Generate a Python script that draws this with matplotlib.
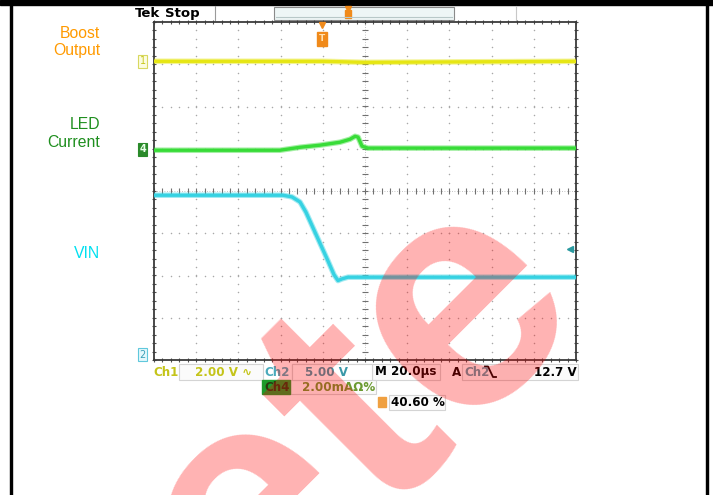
import numpy as np
import matplotlib.pyplot as plt
from matplotlib.patches import Rectangle

# scope settings (status bar)
ch1_volts_div = 2.0
ch2_volts_div = 5.0
ch4_ma_div = 2.0
time_div_us = 20.0
trig_level_v = 12.7
trig_pos_us = -20.4

# channel ground markers, divisions from screen centre
ch1_pos = 3.07
ch4_pos = 0.99
ch2_pos = -3.92

# Ch1 boost output, V (ac coupled)
boost_t = [-100, -20, 0, 100]
boost_v = [0.0, 0.0, -0.05, 0.0]

# Ch4 LED current, mA deviation
led_t = [-100, -40.3, -30.8, -21.3, -11.8, -7.1, -4.7, -3.3, -1.4, 1.4, 100]
led_ma = [-0.05, -0.05, 0.09, 0.19, 0.33, 0.47, 0.61, 0.57, 0.14, 0.05, 0.05]

# Ch2 VIN, V
vin_t = [-100, -38.9, -34.6, -30.8, -28.0, -25.1, -21.3, -17.5, -14.7, -12.8, -10.9, -8.1, 100]
vin_v = [19.1, 19.1, 18.9, 18.3, 17.1, 15.5, 13.4, 11.3, 9.7, 9.0, 9.2, 9.4, 9.4]

labels = [("Boost", "#ff9a00", 38), ("Output", "#ff9a00", 55),
          ("LED", "#1f8f1f", 129), ("Current", "#1f8f1f", 147),
          ("VIN", "#00e0f0", 258)]

W, H = 713, 495
fig = plt.figure(figsize=(W / 100, H / 100), dpi=100)

# page decoration in pixel coordinates
bg = fig.add_axes([0, 0, 1, 1])
bg.set_xlim(0, W)
bg.set_ylim(H, 0)
bg.axis('off')
bg.add_patch(Rectangle((0, 0), W, 5, color='black'))
bg.add_patch(Rectangle((10, 0), 2, H, color='black'))
bg.add_patch(Rectangle((706, 0), 2, H, color='black'))

for txt, col, yb in labels:
    bg.text(100, yb, txt, color=col, ha='right', va='baseline',
            fontsize=11.3, family='Liberation Sans')

# header
bg.text(135, 13.5, 'Tek', fontsize=9.5, weight='bold', va='center', family='DejaVu Sans')
bg.text(165, 13.5, 'Stop', fontsize=9.5, weight='semibold', va='center', family='DejaVu Sans')
bg.plot([215, 215], [6, 20], color='#9a9a9a', lw=0.8)
bg.plot([516, 516], [6, 20], color='#c8c8c8', lw=0.8)
bg.add_patch(Rectangle((274, 7), 180, 13, facecolor='#eef6f6', edgecolor='#8a8a8a', lw=0.8))
bg.plot([276, 452], [17, 17], color='#b8c8c8', lw=0.8)
bg.plot(348, 9, marker='v', color='#f08a1a', ms=4)
bg.add_patch(Rectangle((345, 10), 6, 8, color='#f08a1a'))

# status bar boxes
boxes = [(179, 364, 84, 16), (292, 364, 80, 16), (372, 364, 68, 16),
         (462, 364, 116, 16), (290, 380, 86, 14), (389, 395, 56, 15)]
for x0, y0, bw, bh in boxes:
    bg.add_patch(Rectangle((x0, y0), bw, bh, facecolor='#fbfbfb', edgecolor='#d4d4d4', lw=0.8))
bg.add_patch(Rectangle((292, 364), 80, 16, facecolor='white', edgecolor='#d4d4d4', lw=0.8))

sfont = dict(fontsize=8.6, weight='bold', va='center', family='DejaVu Sans')
bg.text(153, 372, 'Ch1', color='#c4c41a', **sfont)
bg.text(195, 372, '2.00 V \u223f', color='#c4c41a', **sfont)
bg.text(264, 372, 'Ch2', color='#4aaabb', **sfont)
bg.text(305, 372, '5.00 V', color='#3a98a8', **sfont)
bg.text(375, 372, 'M 20.0\u00b5s', color='black', **sfont)
bg.text(452, 372, 'A', color='black', **sfont)
bg.text(464, 372, 'Ch2', color='#5a9aa8', **sfont)
# falling edge symbol
bg.plot([485, 488, 493, 496], [366.5, 366.5, 377, 377], color='black', lw=1.3)
bg.text(577, 372, '12.7 V', color='black', ha='right', **sfont)
bg.add_patch(Rectangle((262, 380), 28, 14, color='#1e9a2a'))
bg.text(264, 387.5, 'Ch4', color='#2a3a10', **sfont)
bg.text(302, 387.5, '2.00mA\u2126%', color='#6a9a30', **sfont)
bg.add_patch(Rectangle((378, 397), 8, 10, color='#f0a040'))
bg.text(391, 402.5, '40.60 %', color='black', **sfont)

# scope graticule: x in us, y in divisions
ax = fig.add_axes([154 / W, 1 - 360 / H, 422 / W, 338 / H])
ax.set_xlim(-5 * time_div_us, 5 * time_div_us)
ax.set_ylim(-4, 4)
ax.set_xticks([])
ax.set_yticks([])
for s in ax.spines.values():
    s.set_color('#3a3a3a')
    s.set_linewidth(1.3)

xs = np.arange(-100, 100.1, 4)
ys = np.arange(-4, 4.01, 0.2)
for gx in np.arange(-80, 81, 20):
    if gx != 0:
        ax.scatter(np.full(ys.size, gx), ys, s=1.2, color='#a8a8a8', lw=0, zorder=1)
for gy in range(-3, 4):
    if gy != 0:
        ax.scatter(xs, np.full(xs.size, gy), s=1.2, color='#a8a8a8', lw=0, zorder=1)
# centre lines with minor ticks
ax.axhline(0, color='#b0b0b0', lw=0.6, ls=(0, (1, 2)), zorder=1)
ax.axvline(0, color='#b0b0b0', lw=0.6, ls=(0, (1, 2)), zorder=1)
ax.scatter(xs, np.zeros(xs.size), marker='|', s=18, color='#707070', lw=0.8, zorder=1)
ax.scatter(np.zeros(ys.size), ys, marker='_', s=18, color='#707070', lw=0.8, zorder=1)
# border ticks
ax.scatter(xs, np.full(xs.size, 4), marker='|', s=10, color='#505050', lw=0.8, zorder=1, clip_on=False)
ax.scatter(xs, np.full(xs.size, -4), marker='|', s=10, color='#505050', lw=0.8, zorder=1, clip_on=False)
ax.scatter(np.full(ys.size, -100), ys, marker='_', s=10, color='#505050', lw=0.8, zorder=1, clip_on=False)
ax.scatter(np.full(ys.size, 100), ys, marker='_', s=10, color='#505050', lw=0.8, zorder=1, clip_on=False)

# traces
boost_y = np.array(boost_v) / ch1_volts_div + ch1_pos
led_y = np.array(led_ma) / ch4_ma_div + ch4_pos
vin_y = np.array(vin_v) / ch2_volts_div + ch2_pos
for t, y, col in [(boost_t, boost_y, '#e6e614'), (led_t, led_y, '#38dc38'), (vin_t, vin_y, '#36d2e2')]:
    ax.plot(t, y, color=col, lw=4.0, alpha=0.45, solid_capstyle='butt', zorder=3)
    ax.plot(t, y, color=col, lw=2.4, solid_capstyle='butt', zorder=4)

# channel markers
yt = ax.get_yaxis_transform()
ax.text(-0.027, ch1_pos, '1', transform=yt, ha='center', va='center', fontsize=7,
        color='#c8c820', clip_on=False,
        bbox=dict(boxstyle='square,pad=0.15', fc='#fcfce0', ec='#d8d860', lw=0.8))
ax.text(-0.027, ch4_pos, '4', transform=yt, ha='center', va='center', fontsize=7,
        color='#e8ffe8', weight='bold', clip_on=False,
        bbox=dict(boxstyle='square,pad=0.15', fc='#2a8a2a', ec='#2a8a2a', lw=0.8))
ax.text(-0.027, ch2_pos + 0.05, '2', transform=yt, ha='center', va='center', fontsize=7,
        color='#3aa0b8', clip_on=False,
        bbox=dict(boxstyle='square,pad=0.15', fc='#e4f8fc', ec='#60c8dc', lw=0.8))
ax.plot(0.985, trig_level_v / ch2_volts_div + ch2_pos, transform=yt, marker='<',
        color='#2a9aa0', ms=4.5, zorder=5)
ax.plot(trig_pos_us, 3.93, marker='v', color='#f08a1a', ms=4.5, clip_on=False, zorder=5)
ax.text(trig_pos_us, 3.6, 'T', ha='center', va='center', fontsize=6.5, weight='bold',
        color='#ffe0b0',
        bbox=dict(boxstyle='square,pad=0.25', fc='#f08a1a', ec='#f08a1a'), zorder=5)

# watermark
fig.text(588 / W, 1 - 303 / H, 'Obsolete', fontsize=238, weight='bold',
         family='Liberation Sans', color='red', alpha=0.3, rotation=45,
         rotation_mode='anchor', ha='right', va='baseline', zorder=10)

fig.savefig('out.png', dpi=100)
